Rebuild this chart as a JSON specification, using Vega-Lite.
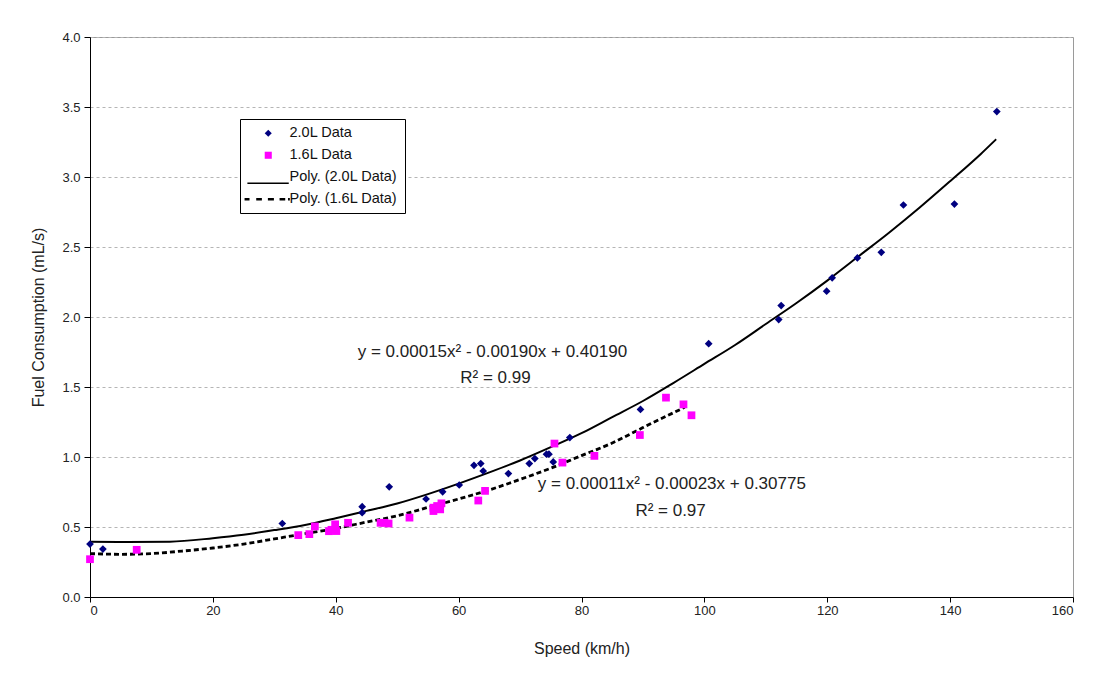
{
  "$schema": "https://vega.github.io/schema/vega-lite/v6.json",
  "width": 983,
  "height": 560,
  "autosize": {"type": "none"},
  "padding": {"left": 90, "top": 37, "right": 43, "bottom": 82},
  "background": "white",
  "config": {
    "font": "Liberation Sans",
    "view": {"stroke": "#9a9a9a", "strokeWidth": 1},
    "axis": {
      "domainColor": "#000000",
      "tickColor": "#000000",
      "labelFont": "Liberation Sans",
      "labelFontSize": 13,
      "labelColor": "#222222",
      "titleFont": "Liberation Sans",
      "titleFontSize": 16,
      "titleFontWeight": "normal",
      "titleColor": "#222222"
    }
  },
  "datasets": {
    "points": [
      {"speed": 0, "fuel": 0.378, "series": "2.0L Data"},
      {"speed": 2.1, "fuel": 0.342, "series": "2.0L Data"},
      {"speed": 31.3, "fuel": 0.525, "series": "2.0L Data"},
      {"speed": 44.3, "fuel": 0.645, "series": "2.0L Data"},
      {"speed": 44.3, "fuel": 0.602, "series": "2.0L Data"},
      {"speed": 48.7, "fuel": 0.787, "series": "2.0L Data"},
      {"speed": 54.7, "fuel": 0.7, "series": "2.0L Data"},
      {"speed": 57.4, "fuel": 0.751, "series": "2.0L Data"},
      {"speed": 60.1, "fuel": 0.8, "series": "2.0L Data"},
      {"speed": 62.5, "fuel": 0.941, "series": "2.0L Data"},
      {"speed": 63.6, "fuel": 0.953, "series": "2.0L Data"},
      {"speed": 64.0, "fuel": 0.9, "series": "2.0L Data"},
      {"speed": 68.1, "fuel": 0.882, "series": "2.0L Data"},
      {"speed": 71.5, "fuel": 0.953, "series": "2.0L Data"},
      {"speed": 72.4, "fuel": 0.989, "series": "2.0L Data"},
      {"speed": 74.3, "fuel": 1.02, "series": "2.0L Data"},
      {"speed": 74.7, "fuel": 1.02, "series": "2.0L Data"},
      {"speed": 75.4, "fuel": 0.965, "series": "2.0L Data"},
      {"speed": 78.1, "fuel": 1.139, "series": "2.0L Data"},
      {"speed": 89.6, "fuel": 1.34, "series": "2.0L Data"},
      {"speed": 100.7, "fuel": 1.809, "series": "2.0L Data"},
      {"speed": 112.1, "fuel": 1.982, "series": "2.0L Data"},
      {"speed": 112.5, "fuel": 2.082, "series": "2.0L Data"},
      {"speed": 119.9, "fuel": 2.184, "series": "2.0L Data"},
      {"speed": 120.8, "fuel": 2.28, "series": "2.0L Data"},
      {"speed": 124.9, "fuel": 2.422, "series": "2.0L Data"},
      {"speed": 128.8, "fuel": 2.462, "series": "2.0L Data"},
      {"speed": 132.4, "fuel": 2.8, "series": "2.0L Data"},
      {"speed": 140.7, "fuel": 2.807, "series": "2.0L Data"},
      {"speed": 147.6, "fuel": 3.467, "series": "2.0L Data"},
      {"speed": 0, "fuel": 0.27, "series": "1.6L Data"},
      {"speed": 7.6, "fuel": 0.337, "series": "1.6L Data"},
      {"speed": 33.9, "fuel": 0.442, "series": "1.6L Data"},
      {"speed": 35.7, "fuel": 0.449, "series": "1.6L Data"},
      {"speed": 36.6, "fuel": 0.504, "series": "1.6L Data"},
      {"speed": 38.9, "fuel": 0.47, "series": "1.6L Data"},
      {"speed": 39.3, "fuel": 0.48, "series": "1.6L Data"},
      {"speed": 39.9, "fuel": 0.519, "series": "1.6L Data"},
      {"speed": 40.1, "fuel": 0.471, "series": "1.6L Data"},
      {"speed": 42.0, "fuel": 0.53, "series": "1.6L Data"},
      {"speed": 47.3, "fuel": 0.53, "series": "1.6L Data"},
      {"speed": 47.9, "fuel": 0.53, "series": "1.6L Data"},
      {"speed": 48.6, "fuel": 0.525, "series": "1.6L Data"},
      {"speed": 52.0, "fuel": 0.567, "series": "1.6L Data"},
      {"speed": 55.9, "fuel": 0.614, "series": "1.6L Data"},
      {"speed": 55.9, "fuel": 0.638, "series": "1.6L Data"},
      {"speed": 56.5, "fuel": 0.65, "series": "1.6L Data"},
      {"speed": 57.0, "fuel": 0.626, "series": "1.6L Data"},
      {"speed": 57.2, "fuel": 0.669, "series": "1.6L Data"},
      {"speed": 63.2, "fuel": 0.689, "series": "1.6L Data"},
      {"speed": 64.3, "fuel": 0.758, "series": "1.6L Data"},
      {"speed": 75.6, "fuel": 1.096, "series": "1.6L Data"},
      {"speed": 76.9, "fuel": 0.96, "series": "1.6L Data"},
      {"speed": 82.1, "fuel": 1.008, "series": "1.6L Data"},
      {"speed": 89.5, "fuel": 1.157, "series": "1.6L Data"},
      {"speed": 93.75, "fuel": 1.424, "series": "1.6L Data"},
      {"speed": 96.6, "fuel": 1.376, "series": "1.6L Data"},
      {"speed": 97.9, "fuel": 1.298, "series": "1.6L Data"}
    ],
    "trend20": [
      {"speed": 0, "fuel": 0.395},
      {"speed": 6, "fuel": 0.393},
      {"speed": 13, "fuel": 0.395},
      {"speed": 20, "fuel": 0.42},
      {"speed": 25, "fuel": 0.445},
      {"speed": 30, "fuel": 0.478},
      {"speed": 35, "fuel": 0.515},
      {"speed": 40, "fuel": 0.563},
      {"speed": 45, "fuel": 0.615},
      {"speed": 50, "fuel": 0.668},
      {"speed": 55, "fuel": 0.735},
      {"speed": 60, "fuel": 0.81},
      {"speed": 65, "fuel": 0.89},
      {"speed": 70, "fuel": 0.975},
      {"speed": 75, "fuel": 1.07},
      {"speed": 80, "fuel": 1.17},
      {"speed": 85, "fuel": 1.285},
      {"speed": 90, "fuel": 1.4},
      {"speed": 95, "fuel": 1.53},
      {"speed": 100, "fuel": 1.665},
      {"speed": 105, "fuel": 1.8},
      {"speed": 110, "fuel": 1.95},
      {"speed": 115, "fuel": 2.1},
      {"speed": 120, "fuel": 2.26},
      {"speed": 125, "fuel": 2.43},
      {"speed": 130, "fuel": 2.6},
      {"speed": 135, "fuel": 2.78},
      {"speed": 140, "fuel": 2.97},
      {"speed": 145, "fuel": 3.165},
      {"speed": 147.5, "fuel": 3.27}
    ],
    "trend16": [
      {"speed": 0, "fuel": 0.31},
      {"speed": 5, "fuel": 0.305},
      {"speed": 10, "fuel": 0.31},
      {"speed": 15, "fuel": 0.328},
      {"speed": 20, "fuel": 0.35},
      {"speed": 25, "fuel": 0.378},
      {"speed": 30, "fuel": 0.415},
      {"speed": 35, "fuel": 0.452},
      {"speed": 40, "fuel": 0.49},
      {"speed": 45, "fuel": 0.535},
      {"speed": 50, "fuel": 0.58},
      {"speed": 55, "fuel": 0.64},
      {"speed": 60, "fuel": 0.7},
      {"speed": 65, "fuel": 0.765},
      {"speed": 70, "fuel": 0.84},
      {"speed": 75, "fuel": 0.92},
      {"speed": 80, "fuel": 1.01},
      {"speed": 85, "fuel": 1.1},
      {"speed": 90, "fuel": 1.21},
      {"speed": 96.8, "fuel": 1.355}
    ],
    "notes": [
      {"speed": 65.5, "fuel": 1.749, "label": "y = 0.00015x² - 0.00190x + 0.40190"},
      {"speed": 66.0, "fuel": 1.566, "label": "R² = 0.99"},
      {"speed": 94.7, "fuel": 0.804, "label": "y = 0.00011x² - 0.00023x + 0.30775"},
      {"speed": 94.5, "fuel": 0.614, "label": "R² = 0.97"}
    ]
  },
  "encoding": {
    "x": {
      "field": "speed",
      "type": "quantitative",
      "scale": {"domain": [0, 160], "nice": false, "zero": false},
      "axis": {
        "title": "Speed (km/h)",
        "values": [0, 20, 40, 60, 80, 100, 120, 140, 160],
        "grid": false,
        "tickSize": 5,
        "labelPadding": 2,
        "titlePadding": 23
      }
    },
    "y": {
      "field": "fuel",
      "type": "quantitative",
      "scale": {"domain": [0, 4], "nice": false},
      "axis": {
        "title": "Fuel Consumption (mL/s)",
        "values": [0, 0.5, 1, 1.5, 2, 2.5, 3, 3.5, 4],
        "format": ".1f",
        "grid": true,
        "gridColor": "#b5b5b5",
        "gridDash": [3, 3],
        "tickSize": 6,
        "labelPadding": 4,
        "titlePadding": 15
      }
    }
  },
  "layer": [
    {
      "data": {"name": "trend20"},
      "mark": {"type": "line", "color": "#000000", "strokeWidth": 2, "interpolate": "monotone"},
      "encoding": {}
    },
    {
      "data": {"name": "trend16"},
      "mark": {"type": "line", "color": "#000000", "strokeWidth": 2.8, "strokeDash": [5, 3], "strokeCap": "butt", "interpolate": "monotone"},
      "encoding": {}
    },
    {
      "data": {"name": "points"},
      "mark": {"type": "point", "filled": true, "size": 60, "opacity": 1},
      "encoding": {
        "color": {
          "field": "series",
          "type": "nominal",
          "scale": {
            "domain": ["2.0L Data", "1.6L Data", "Poly. (2.0L Data)", "Poly. (1.6L Data)"],
            "range": ["#000080", "#FF00FF", "#000000", "#000000"]
          },
          "legend": {
            "title": null,
            "orient": "none",
            "legendX": 150,
            "legendY": 82,
            "fillColor": "white",
            "strokeColor": "#000000",
            "padding": 7,
            "labelFont": "Liberation Sans",
            "labelFontSize": 14.5,
            "labelColor": "#111111",
            "labelOffset": 14,
            "symbolOffset": 14,
            "symbolSize": 50,
            "rowPadding": 7
          }
        },
        "shape": {
          "field": "series",
          "type": "nominal",
          "scale": {
            "domain": ["2.0L Data", "1.6L Data", "Poly. (2.0L Data)", "Poly. (1.6L Data)"],
            "range": [
              "diamond",
              "square",
              "M-5.9,1.5H5.8V1.9H-5.9Z",
              "M-6.7,-0.35H-5.3V0.35H-6.7ZM-3.4,-0.35H-1.8V0.35H-3.4ZM-0.1,-0.35H1.6V0.35H-0.1ZM3.2,-0.35H4.8V0.35H3.2ZM5.6,-0.35H6.1V0.35H5.6Z"
            ]
          },
          "legend": {
            "title": null,
            "orient": "none",
            "legendX": 150,
            "legendY": 82,
            "fillColor": "white",
            "strokeColor": "#000000",
            "padding": 7,
            "labelFont": "Liberation Sans",
            "labelFontSize": 14.5,
            "labelColor": "#111111",
            "labelOffset": 14,
            "symbolOffset": 14,
            "symbolSize": 50,
            "rowPadding": 7
          }
        }
      }
    },
    {
      "data": {"name": "notes"},
      "mark": {"type": "text", "font": "Liberation Sans", "fontSize": 17, "color": "#222222", "align": "center", "baseline": "middle"},
      "encoding": {
        "text": {"field": "label", "type": "nominal"}
      }
    }
  ]
}
